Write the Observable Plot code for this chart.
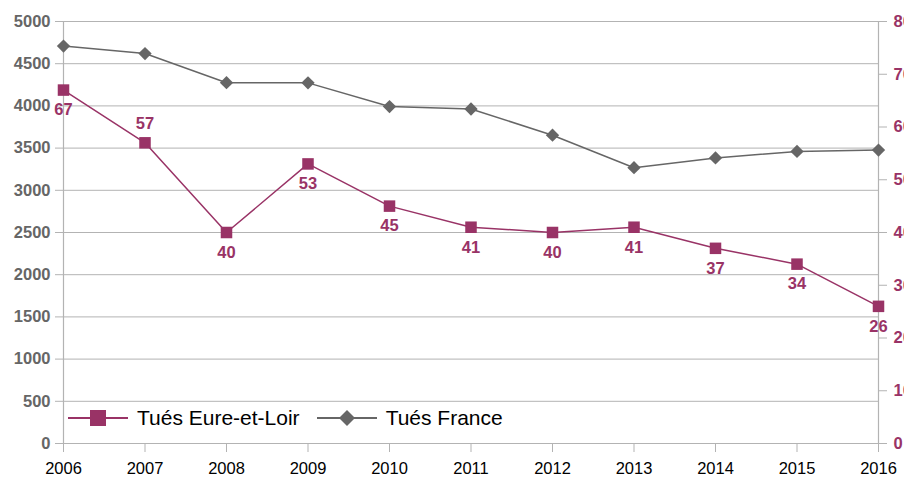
<!DOCTYPE html>
<html>
<head>
<meta charset="utf-8">
<script src="https://cdn.jsdelivr.net/npm/d3@7"></script>
<script src="https://cdn.jsdelivr.net/npm/@observablehq/plot@0.6"></script>
<style>
  html, body { margin: 0; padding: 0; background: #fff; overflow: hidden; }
  #chart { position: relative; width: 904px; height: 477px; font-family: "Liberation Sans", Arial, sans-serif; }
  #legend { position: absolute; left: 67px; top: 405px; display: flex; align-items: center; font-size: 21px; color: #000; }
  #legend .item { display: flex; align-items: center; margin-right: 16px; }
  #legend svg { margin-right: 8px; }
</style>
</head>
<body>
<div id="chart"></div>
<script>
const years = [2006, 2007, 2008, 2009, 2010, 2011, 2012, 2013, 2014, 2015, 2016];
const tuesFrance = [4709, 4620, 4275, 4273, 3992, 3963, 3653, 3268, 3384, 3461, 3477];
const tuesEureEtLoir = [67, 57, 40, 53, 45, 41, 40, 41, 37, 34, 26];
const leftTicks = [0, 500, 1000, 1500, 2000, 2500, 3000, 3500, 4000, 4500, 5000];
const rightTicks = [0, 10, 20, 30, 40, 50, 60, 70, 80];
const labelAboveYears = [2007];
const seriesNames = ["Tués Eure-et-Loir", "Tués France"];

const leftMax = 5000, rightMax = 80;
const k = leftMax / rightMax;
const colEure = "#993366";
const colFrance = "#666666";
const gridCol = "#b3b3b3";

const france = years.map((y, i) => ({year: y, value: tuesFrance[i]}));
const eure = years.map((y, i) => ({year: y, value: tuesEureEtLoir[i], scaled: tuesEureEtLoir[i] * k}));

const plot = Plot.plot({
  width: 904,
  height: 477,
  marginLeft: 63,
  marginRight: 26,
  marginTop: 21,
  marginBottom: 34,
  style: {fontFamily: "Liberation Sans, Arial, sans-serif", overflow: "visible", background: "#fff"},
  x: {domain: [2006, 2016]},
  y: {domain: [0, leftMax]},
  marks: [
    Plot.ruleY(leftTicks, {stroke: gridCol, strokeWidth: 1}),
    Plot.axisY(leftTicks, {anchor: "left", tickSize: 8, tickPadding: 5, stroke: gridCol, fill: "#666666", fontWeight: "bold", fontSize: 16.5, label: null, tickFormat: d => String(d)}),
    Plot.axisY(rightTicks.map(d => d * k), {anchor: "right", tickSize: 8, tickPadding: 7, stroke: gridCol, fill: colEure, fontWeight: "bold", fontSize: 16.5, label: null, tickFormat: d => String(Math.round(d / k))}),
    Plot.axisX(years, {anchor: "bottom", tickSize: 9, tickPadding: 10, stroke: gridCol, fill: "#000", fontSize: 16.5, label: null, tickFormat: d => String(d)}),
    Plot.ruleX([2006, 2016], {y1: 0, y2: leftMax, stroke: gridCol, strokeWidth: 1.2}),
    Plot.line(france, {x: "year", y: "value", stroke: colFrance, strokeWidth: 1.5}),
    Plot.dot(france, {x: "year", y: "value", symbol: d3.symbolDiamond2, r: 6, fill: colFrance, stroke: "none"}),
    Plot.line(eure, {x: "year", y: "scaled", stroke: colEure, strokeWidth: 1.5}),
    Plot.dot(eure, {x: "year", y: "scaled", symbol: "square", r: 6.5, fill: colEure, stroke: "none"}),
    Plot.text(eure.filter(d => !labelAboveYears.includes(d.year)), {x: "year", y: "scaled", text: d => String(d.value), dy: 20, fill: colEure, fontWeight: "bold", fontSize: 16.5}),
    Plot.text(eure.filter(d => labelAboveYears.includes(d.year)), {x: "year", y: "scaled", text: d => String(d.value), dy: -19, fill: colEure, fontWeight: "bold", fontSize: 16.5})
  ]
});

const chart = document.getElementById("chart");
chart.appendChild(plot);

const legend = document.createElement("div");
legend.id = "legend";
legend.innerHTML = `
  <div class="item">
    <svg width="62" height="26"><line x1="1" y1="13" x2="61" y2="13" stroke="${colEure}" stroke-width="2"/><rect x="23" y="5" width="16" height="16" fill="${colEure}"/></svg>
    <span>${seriesNames[0]}</span>
  </div>
  <div class="item">
    <svg width="62" height="26"><line x1="1" y1="13" x2="61" y2="13" stroke="${colFrance}" stroke-width="2"/><path d="M31,5 L39,13 L31,21 L23,13 Z" fill="${colFrance}"/></svg>
    <span>${seriesNames[1]}</span>
  </div>`;
chart.appendChild(legend);
</script>
</body>
</html>
